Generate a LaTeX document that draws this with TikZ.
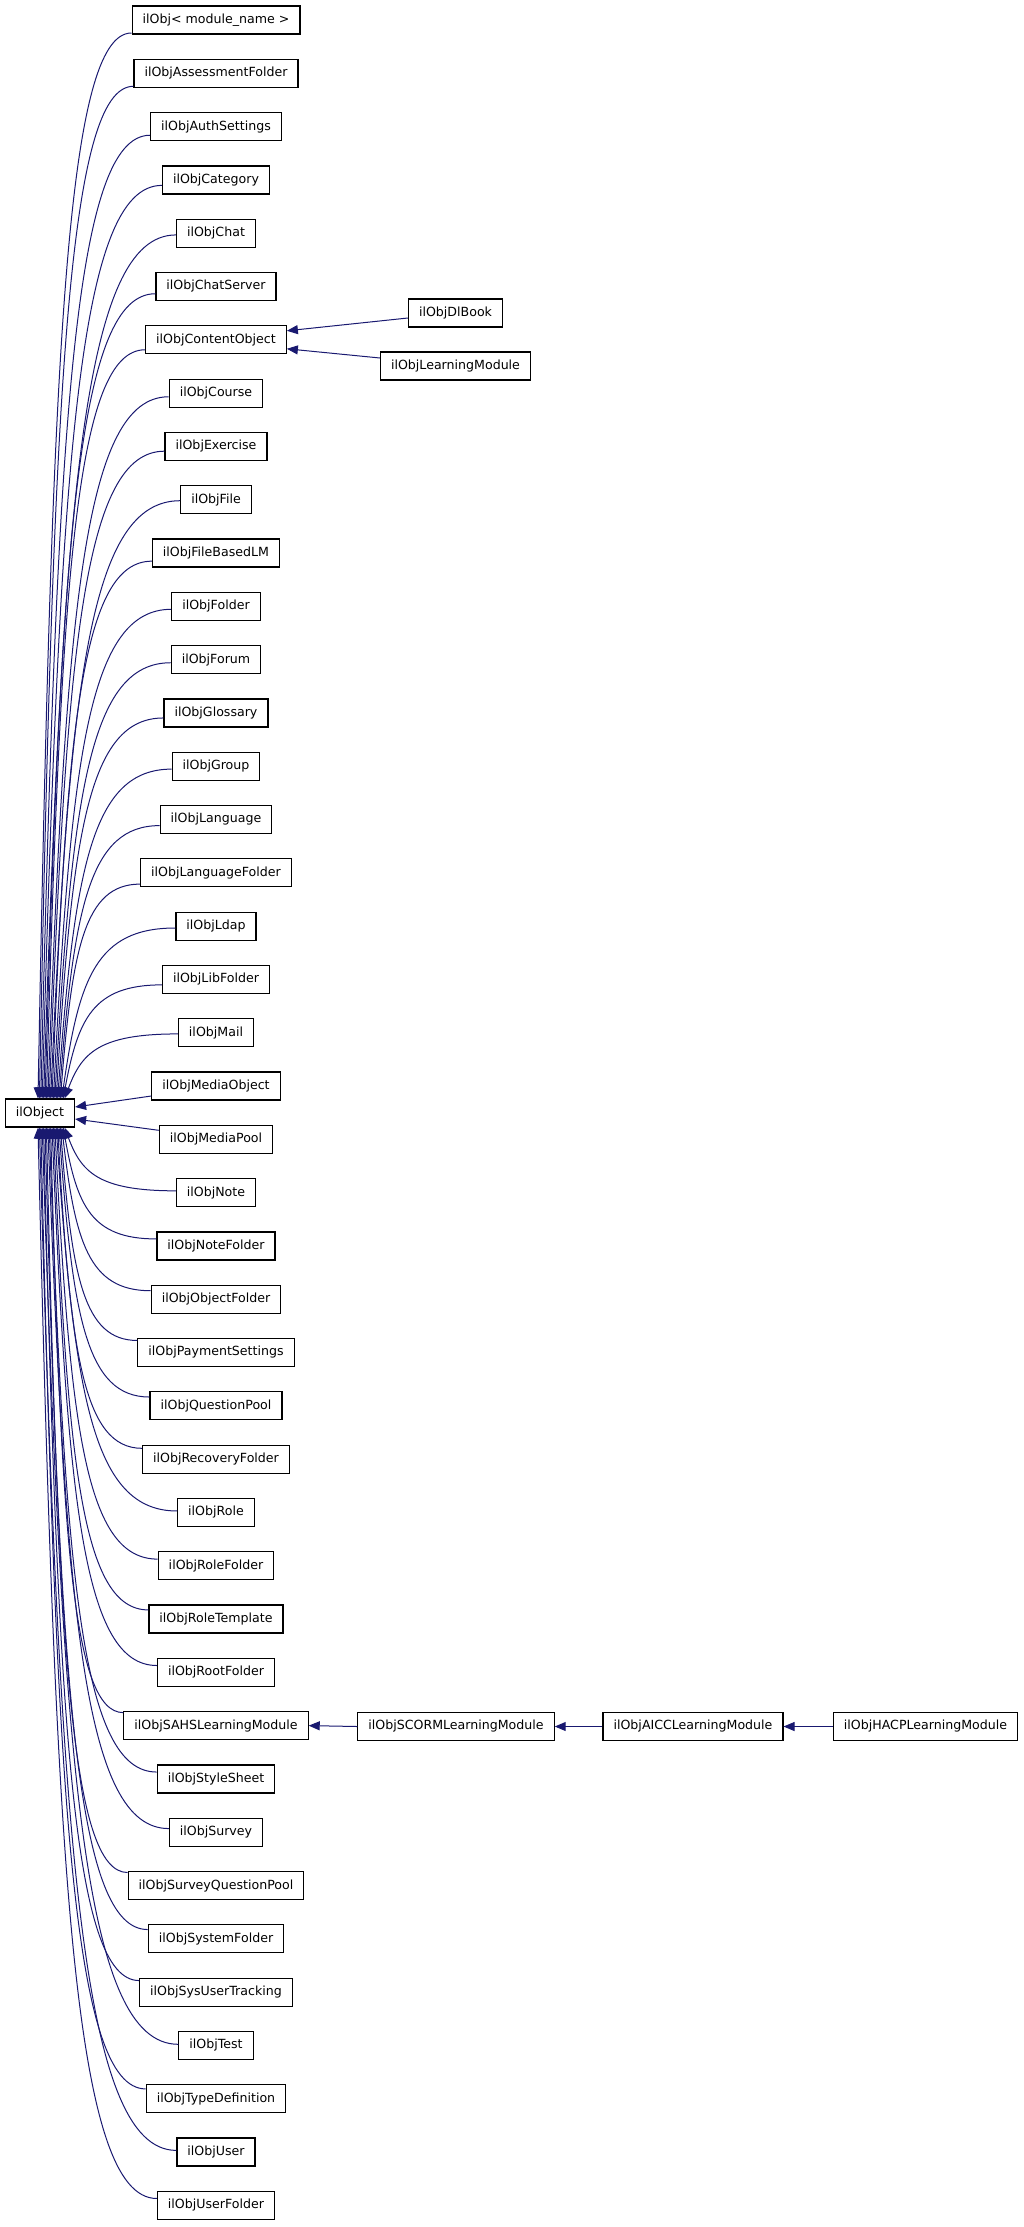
\documentclass[tikz,border=0pt]{standalone}
\usepackage{fontspec}
\setmainfont{DejaVu Sans}
\usepackage{tikz}
\usetikzlibrary{arrows.meta, calc}
\definecolor{edgeblue}{HTML}{191970}
\tikzset{
  cls/.style={
    draw=black, line width=1.2pt, fill=white,
    minimum height=28pt, inner xsep=10.5pt, inner ysep=0pt,
    font=\fontsize{12.6}{14}\selectfont
  },
  inh/.style={
    draw=edgeblue, line width=1pt,
    {Triangle[length=11pt, width=9pt, fill=edgeblue]}-
  }
}
% curved edge from a child in the left column up/down to ilObject
\newcommand{\inhedge}[4]{%
  \draw[inh] let \p0 = (#1.west),
      \n1 = {max(1,min(13,14-0.267*(\x0-130pt)))},
      \p1 = (\x0, {\y0-(#4)*\n1*1pt}),
      \p2 = ($(obj.#2)+({-2+1.4*(#3-1)},0)$)
    in (\p2) .. controls ({\x2+0.15*(\x1-\x2)}, {\y2+0.7*(\y1-\y2)})
                  and ({\x1-0.7*(\x1-\x2)}, \y1) .. (\p1);}

\begin{document}
\begin{tikzpicture}[x=1pt, y=-1pt]
  \useasboundingbox (0,0) rectangle (1024,2227);

  \node[cls] (obj) at (40,1113) {ilObject};

  \foreach \nm/\tx [count=\i] in {
      tmpl/{ilObj< module\_name >}, assess/ilObjAssessmentFolder,
      auth/ilObjAuthSettings, cat/ilObjCategory, chat/ilObjChat,
      chatsrv/ilObjChatServer, cont/ilObjContentObject, crs/ilObjCourse,
      exc/ilObjExercise, file/ilObjFile, flm/ilObjFileBasedLM,
      fold/ilObjFolder, frm/ilObjForum, glo/ilObjGlossary, grp/ilObjGroup,
      lng/ilObjLanguage, lngf/ilObjLanguageFolder, ldap/ilObjLdap,
      libf/ilObjLibFolder, mail/ilObjMail, mob/ilObjMediaObject,
      mep/ilObjMediaPool, note/ilObjNote, notf/ilObjNoteFolder,
      objf/ilObjObjectFolder, pays/ilObjPaymentSettings,
      qpl/ilObjQuestionPool, recf/ilObjRecoveryFolder, role/ilObjRole,
      rolf/ilObjRoleFolder, rolt/ilObjRoleTemplate, root/ilObjRootFolder,
      sahs/ilObjSAHSLearningModule, sty/ilObjStyleSheet, svy/ilObjSurvey,
      spl/ilObjSurveyQuestionPool, adm/ilObjSystemFolder,
      trac/ilObjSysUserTracking, tst/ilObjTest, typ/ilObjTypeDefinition,
      usr/ilObjUser, usrf/ilObjUserFolder} {
    \node[cls] (\nm) at (216,{20+(\i-1)*53.3}) {\tx};
    \ifnum\i<21 \inhedge{\nm}{north}{\i}{1}\fi
    \ifnum\i>22 \inhedge{\nm}{south}{43-\i}{-1}\fi
  }

  % the two rows next to ilObject
  \draw[inh] ($(obj.east)+(0,-6)$) -- ($(mob.west)+(0,10)$);
  \draw[inh] ($(obj.east)+(0,6)$) -- ($(mep.west)+(0,-9)$);

  % subclasses of ilObjContentObject
  \node[cls] (dlbook) at (455.5,313) {ilObjDlBook};
  \node[cls] (lm) at (455.5,366) {ilObjLearningModule};
  \draw[inh] ($(cont.east)+(0,-9)$) -- ($(dlbook.west)+(0,5)$);
  \draw[inh] ($(cont.east)+(0,9)$) -- ($(lm.west)+(0,-8)$);

  % SAHS chain
  \node[cls] (scorm) at (456,1726.5) {ilObjSCORMLearningModule};
  \node[cls] (aicc) at (693,1726.5) {ilObjAICCLearningModule};
  \node[cls] (hacp) at (925.5,1726.5) {ilObjHACPLearningModule};
  \draw[inh] (sahs.east) -- (scorm.west);
  \draw[inh] (scorm.east) -- (aicc.west);
  \draw[inh] (aicc.east) -- (hacp.west);
\end{tikzpicture}
\end{document}
